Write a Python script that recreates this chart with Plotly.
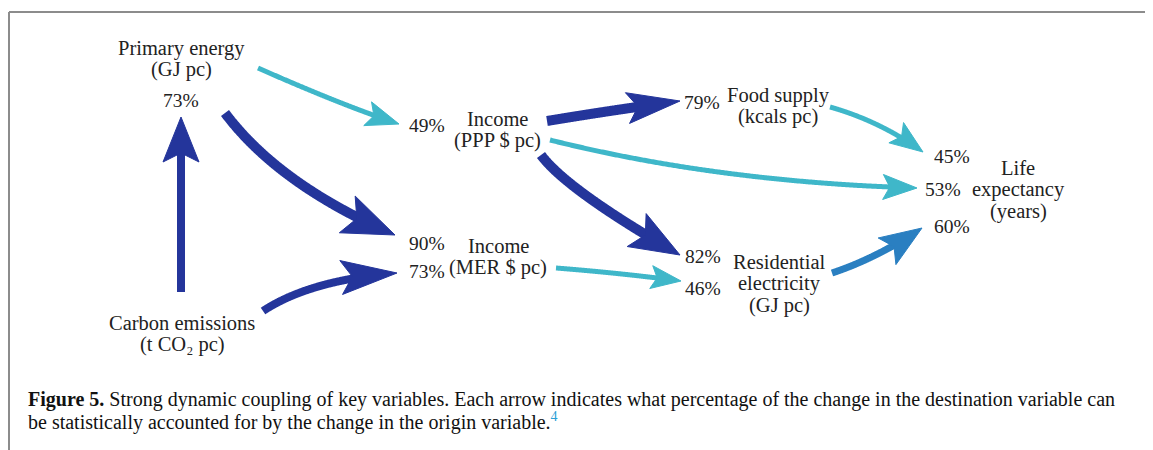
import numpy as np
import plotly.graph_objects as go

# ---------------- data ----------------
node_ids = ["PE", "PPP", "MER", "CO2", "FOOD", "RES", "LIFE"]
node_line1 = ["Primary energy", "Income", "Income", "Carbon emissions", "Food supply", "Residential", "Life"]
node_line2 = ["(GJ pc)", "(PPP $ pc)", "(MER $ pc)", "(t CO\u2082 pc)", "(kcals pc)", "electricity", "expectancy"]
node_line3 = ["", "", "", "", "", "(GJ pc)", "(years)"]

edge_source = ["PE", "PE", "CO2", "CO2", "PPP", "PPP", "PPP", "MER", "FOOD", "RES"]
edge_target = ["PPP", "MER", "PE", "MER", "FOOD", "LIFE", "RES", "RES", "LIFE", "LIFE"]
edge_pct = [49, 90, 73, 73, 79, 53, 82, 46, 45, 60]
edge_strength = ["weak", "strong", "strong", "strong", "strong", "weak", "strong", "weak", "weak", "medium"]

caption_line1 = "<b>Figure 5.</b> Strong dynamic coupling of key variables. Each arrow indicates what percentage of the change in the destination variable can"
caption_line2 = "be statistically accounted for by the change in the origin variable."
caption_ref = "4"

# ---------------- layout (pixel space of the page) ----------------
node_pos = {  # x center, y of first line
    "PE": (181, 48), "PPP": (497, 119), "MER": (498, 246), "CO2": (182, 323),
    "FOOD": (778, 95), "RES": (779, 262), "LIFE": (1018, 168),
}
line_gap = 21.5

# per-edge geometry: start, control, tip, pct label position
edge_geom = [
    ((258, 68), (344, 106), (399, 124), (427, 125)),
    ((225, 113), (279, 185), (395, 235), (427, 243)),
    ((181, 292), (181, 200), (181, 117), (181, 100)),
    ((263, 311), (310, 280), (397, 273), (427, 271)),
    ((547, 121), (613, 110), (680, 101), (702, 102)),
    ((550, 140), (718, 182), (917, 188), (943, 189)),
    ((541, 155), (567, 190), (680, 255), (703, 256)),
    ((556, 268), (620, 273), (681, 281), (703, 288)),
    ((830, 107), (880, 121), (923, 152), (952, 156)),
    ((832, 273), (877, 258), (922, 228), (952, 226)),
]
edge_width = [5, 10, 8, 8, 10, 5, 10, 5, 5, 7]
head_len = [33, 52, 45, 56, 53, 34, 50, 30, 33, 42]
head_wid = [25, 40, 36, 34, 31, 25, 38, 23, 25, 32]
colors = {"strong": "#24359b", "weak": "#3fb7c9", "medium": "#2a7fc1"}

LABEL_FONT = dict(family="Liberation Serif", size=20.5, color="#222")
PCT_FONT = dict(family="Liberation Serif", size=19.5, color="#222")
CAP_FONT = dict(family="Liberation Serif", size=20, color="#111")

fig = go.Figure()


def bez(p0, p1, p2, t):
    p0, p1, p2 = map(np.asarray, (p0, p1, p2))
    t = np.asarray(t)[:, None]
    return (1 - t) ** 2 * p0 + 2 * (1 - t) * t * p1 + t ** 2 * p2


for i, (s, c, tip, lab) in enumerate(edge_geom):
    col = colors[edge_strength[i]]
    tip_a = np.asarray(tip, float)
    d = tip_a - np.asarray(c, float)
    d = d / np.linalg.norm(d)
    n = np.array([-d[1], d[0]])
    L, W = head_len[i], head_wid[i]
    ts = np.linspace(0, 1, 300)
    pts = bez(s, c, tip, ts)
    dist = np.linalg.norm(pts - tip_a, axis=1)
    pts = pts[dist >= L * 0.75]
    fig.add_trace(go.Scatter(x=pts[:, 0], y=pts[:, 1], mode="lines",
                             line=dict(color=col, width=edge_width[i], simplify=False),
                             hoverinfo="skip", showlegend=False))
    back = tip_a - L * d
    notch = tip_a - L * 0.8 * d
    p_l = back + n * W / 2
    p_r = back - n * W / 2
    poly = np.array([tip_a, p_l, notch, p_r, tip_a])
    fig.add_trace(go.Scatter(x=poly[:, 0], y=poly[:, 1], mode="lines", fill="toself",
                             fillcolor=col, line=dict(color=col, width=1, simplify=False),
                             hoverinfo="skip", showlegend=False))
    fig.add_annotation(x=lab[0], y=lab[1], text=f"{edge_pct[i]}%", showarrow=False,
                       font=PCT_FONT, xanchor="center", yanchor="middle")

for k, nid in enumerate(node_ids):
    x, y = node_pos[nid]
    for j, t in enumerate([node_line1[k], node_line2[k], node_line3[k]]):
        if t:
            fig.add_annotation(x=x, y=y + j * line_gap, text=t, showarrow=False,
                               font=LABEL_FONT, xanchor="center", yanchor="middle")

# caption
fig.add_annotation(x=26, y=399, text=caption_line1, showarrow=False, xanchor="left", yanchor="middle",
                   font=CAP_FONT)
fig.add_annotation(x=26, y=421,
                   text=caption_line2 + f"<sup><span style='color:#2a9fd6'>{caption_ref}</span></sup>",
                   showarrow=False, xanchor="left", yanchor="middle", font=CAP_FONT)

# frame
fig.add_shape(type="line", x0=9, x1=1153, y0=12, y1=12, line=dict(color="#8c8c8c", width=2))
fig.add_shape(type="line", x0=9, x1=9, y0=12, y1=450, line=dict(color="#8c8c8c", width=2))

# the page body has an 8px margin: the figure covers page pixels 8..1153 x 8..450
fig.update_layout(
    width=1145, height=442, margin=dict(l=0, r=0, t=0, b=0),
    paper_bgcolor="white", plot_bgcolor="white",
    xaxis=dict(range=[8, 1153], visible=False, fixedrange=True),
    yaxis=dict(range=[450, 8], visible=False, fixedrange=True),
    showlegend=False,
)
fig.write_html("out.html")
